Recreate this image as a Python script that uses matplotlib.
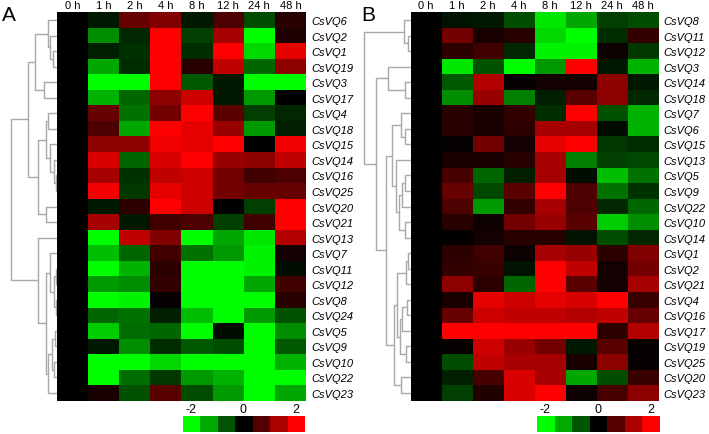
import numpy as np
import matplotlib
matplotlib.use("Agg")
import matplotlib.pyplot as plt
from matplotlib.colors import LinearSegmentedColormap

plt.rcParams['font.family'] = ['Liberation Sans', 'DejaVu Sans']

time_points = ["0 h", "1 h", "2 h", "4 h", "8 h", "12 h", "24 h", "48 h"]

genes_a = ["CsVQ6", "CsVQ2", "CsVQ1", "CsVQ19", "CsVQ3", "CsVQ17", "CsVQ4", "CsVQ18",
           "CsVQ15", "CsVQ14", "CsVQ16", "CsVQ25", "CsVQ20", "CsVQ21", "CsVQ13", "CsVQ7",
           "CsVQ11", "CsVQ12", "CsVQ8", "CsVQ24", "CsVQ5", "CsVQ9", "CsVQ10", "CsVQ22", "CsVQ23"]

values_a = [
    [0, -0.2, 0.8, 1.0, -0.2, 0.6, -0.6, 0.3],
    [0, -1.1, -0.3, 2.0, -0.5, 1.3, -2.0, 0.25],
    [0, -0.25, -0.4, 2.0, -0.35, 2.0, -1.7, 1.8],
    [0, -1.3, -0.35, 2.0, 0.3, 1.5, -0.8, 1.1],
    [0, -2.0, -2.0, 2.0, -0.7, -0.2, -2.0, -2.0],
    [0, -1.4, -0.8, 1.1, 1.6, -0.2, -1.2, 0.0],
    [0, 0.8, -0.9, 0.9, 2.0, 0.7, -0.5, -0.3],
    [0, 0.6, -1.3, 2.0, 1.8, 1.2, -1.2, -0.25],
    [0, 1.1, 1.1, 1.9, 1.8, 2.0, 0.0, 1.9],
    [0, 1.7, -0.8, 1.7, 2.0, 1.2, 1.1, 1.5],
    [0, 1.3, -0.4, 1.5, 1.6, 0.9, 0.5, 0.6],
    [0, 1.9, -0.45, 1.8, 1.6, 0.9, 0.8, 0.8],
    [0, -0.2, 0.35, 2.0, 1.6, 0.0, -0.5, 2.0],
    [0, 1.3, -0.2, 0.5, 0.6, -0.5, 0.5, 2.0],
    [0, -2.0, 1.5, 1.0, -2.0, -1.3, -1.8, 1.4],
    [0, -1.5, -0.8, 0.5, -0.9, -1.2, -1.9, 0.15],
    [0, -2.0, -1.4, 0.35, -2.0, -2.0, -1.9, -0.1],
    [0, -1.2, -1.1, 0.4, -2.0, -2.0, -1.3, 0.5],
    [0, -2.0, -1.9, 0.05, -2.0, -2.0, -2.0, 0.3],
    [0, -0.8, -0.9, -0.25, -1.5, -2.0, -1.2, -0.65],
    [0, -1.6, -0.85, -0.8, -2.0, -0.1, -2.0, -1.1],
    [0, -0.2, -1.1, -0.35, -0.7, -0.6, -2.0, -0.7],
    [0, -2.0, -2.0, -1.7, -2.0, -2.0, -2.0, -1.4],
    [0, -2.0, -0.85, -0.45, -1.2, -1.4, -2.0, -2.0],
    [0, 0.2, -0.65, 0.7, -0.6, -1.2, -2.0, -1.3],
]

# linkage: (child, child, height); leaves = display rows, node n+k = k-th merge
links_a = [
    (2, 3, 3.7), (1, 25, 7.0), (0, 26, 8.7), (4, 5, 12.7), (27, 28, 22.0),
    (6, 7, 8.7), (10, 11, 1.5), (9, 31, 3.0), (8, 32, 7.0), (30, 33, 11.3),
    (12, 13, 11.3), (34, 35, 19.3), (29, 36, 29.3),
    (16, 17, 1.0), (18, 19, 1.0), (38, 39, 2.7), (15, 40, 7.0),
    (20, 21, 2.5), (22, 23, 3.0), (42, 43, 4.7), (44, 24, 8.7), (41, 45, 11.3),
    (14, 46, 18.7), (37, 47, 46.0),
]

genes_b = ["CsVQ8", "CsVQ11", "CsVQ12", "CsVQ3", "CsVQ14", "CsVQ18", "CsVQ7", "CsVQ6",
           "CsVQ15", "CsVQ13", "CsVQ5", "CsVQ9", "CsVQ22", "CsVQ10", "CsVQ14", "CsVQ1",
           "CsVQ2", "CsVQ21", "CsVQ4", "CsVQ16", "CsVQ17", "CsVQ19", "CsVQ25", "CsVQ20", "CsVQ23"]

values_b = [
    [0, -0.15, -0.2, -0.6, -1.8, -1.3, -0.5, -0.6],
    [0, 0.9, 0.2, 0.3, -1.7, -2.0, -0.35, 0.4],
    [0, 0.35, 0.5, -0.3, -1.9, -1.9, 0.1, -0.45],
    [0, -1.8, -0.65, -2.0, -1.2, 2.0, -0.2, -1.4],
    [0, -0.7, 1.4, 0.05, 0.15, 0.15, 1.1, -0.2],
    [0, -1.1, 1.2, -1.0, -0.25, 0.7, 1.1, -0.3],
    [0, 0.3, 0.2, 0.4, -0.35, 2.0, -0.65, -1.4],
    [0, 0.3, 0.2, 0.35, 1.3, 1.3, -0.1, -1.4],
    [0, 0.05, 0.9, 0.15, 1.8, 2.0, -0.45, -0.35],
    [0, 0.2, 0.2, 0.3, 1.3, -1.0, -0.5, -0.55],
    [0, 0.55, -0.8, -0.25, 1.3, -0.1, -1.5, -0.9],
    [0, 0.8, -0.55, 0.7, 2.0, 0.6, -0.9, -0.4],
    [0, 0.6, -1.2, 0.4, 1.3, 0.6, -0.3, -0.8],
    [0, 0.3, 0.1, 0.9, 1.2, 0.7, -1.6, -1.1],
    [0, 0.02, 0.15, 0.3, 0.3, -0.15, -0.6, -0.3],
    [0, 0.35, 0.5, 0.1, 1.3, 1.2, 0.35, 1.0],
    [0, 0.4, 0.45, -0.15, 2.0, 1.5, 0.15, 0.9],
    [0, 1.1, 0.35, -0.8, 2.0, 0.7, 0.15, 1.3],
    [0, 0.2, 1.8, 1.6, 1.8, 1.7, 2.0, 0.45],
    [0, 0.8, 1.6, 1.5, 1.5, 1.4, 1.5, 0.8],
    [0, 2.0, 2.0, 2.0, 2.0, 2.0, 0.35, 1.4],
    [0, 0.05, 1.6, 1.2, 0.9, -0.2, 0.7, 0.05],
    [0, -0.6, 1.5, 1.3, 1.3, 0.2, 1.1, 0.05],
    [0, -0.25, 0.55, 1.7, 1.3, -1.3, -0.6, 0.45],
    [0, -0.5, 0.25, 1.7, 2.0, 0.1, 0.55, 1.1],
]

links_b = [
    (1, 2, 2.4), (0, 25, 6.4), (4, 5, 5.7), (3, 27, 22.4),
    (7, 8, 5.7), (6, 29, 10.0), (10, 11, 5.7), (31, 12, 8.7), (13, 14, 5.7),
    (32, 33, 11.4), (9, 34, 14.7), (30, 35, 19.0),
    (15, 16, 2.4), (37, 17, 5.0), (18, 19, 4.0), (39, 20, 8.4), (21, 22, 4.7),
    (40, 41, 10.7), (38, 42, 14.0), (23, 24, 10.0), (43, 44, 16.7),
    (36, 45, 25.0), (28, 46, 35.0), (26, 47, 46.4),
]

cbar_values = [-2.0, -1.333, -0.667, 0.0, 0.667, 1.333, 2.0]
cbar_ticks = [-2, 0, 2]

cmap = LinearSegmentedColormap.from_list("gkr", [(0, 1, 0), (0, 0, 0), (1, 0, 0)])

W, H = 709, 435
fig = plt.figure(figsize=(W / 100, H / 100), dpi=100)


def px_axes(x0, y0, x1, y1):
    return fig.add_axes([x0 / W, 1 - y1 / H, (x1 - x0) / W, (y1 - y0) / H])


def draw_dendro(ax, links, n):
    pos = {i: float(i) for i in range(n)}
    hgt = {i: 0.0 for i in range(n)}
    for k, (a, b, h) in enumerate(links):
        ya, yb = pos[a], pos[b]
        ax.plot([hgt[a], h, h, hgt[b]], [ya, ya, yb, yb], color="#a8a8a8",
                lw=1.0, solid_capstyle="butt", clip_on=False)
        pos[n + k] = (ya + yb) / 2
        hgt[n + k] = h
    ax.set_ylim(n - 0.5, -0.5)
    ax.axis("off")


def draw_heat(ax, vals, genes):
    arr = np.array(vals)
    ax.imshow(arr, cmap=cmap, vmin=-2, vmax=2, aspect="auto", interpolation="nearest")
    ax.set_xticks(range(len(time_points)))
    ax.set_xticklabels(time_points, fontsize=8)
    ax.xaxis.tick_top()
    ax.set_yticks(range(len(genes)))
    ax.set_yticklabels(genes, fontsize=8, style="italic")
    ax.yaxis.tick_right()
    ax.tick_params(length=0, pad=1.5)
    ax.tick_params(axis="y", pad=4)
    for s in ax.spines.values():
        s.set_visible(False)


def draw_cbar(ax):
    ax.imshow(np.array([cbar_values]), cmap=cmap, vmin=-2, vmax=2, aspect="auto",
              extent=(-2.333, 2.333, 0, 1))
    ax.set_xticks(cbar_ticks)
    ax.set_xticklabels([str(t) for t in cbar_ticks], fontsize=9)
    ax.xaxis.tick_top()
    ax.tick_params(length=0, pad=0.5)
    ax.set_yticks([])
    for s in ax.spines.values():
        s.set_visible(False)


top, bot = 13.3, 401.7

# Panel A
axd = px_axes(0, top, 57, bot)
draw_dendro(axd, links_a, len(genes_a))
axd.set_xlim(57, 0)
axh = px_axes(57, top, 306, bot)
draw_heat(axh, values_a, genes_a)
axc = px_axes(182.7, 417, 304, 432.7)
draw_cbar(axc)
fig.text(1.7 / W, 1 - 20.7 / H, "A", fontsize=15, va="baseline", ha="left")

# Panel B
axd2 = px_axes(355, top, 410.7, bot)
draw_dendro(axd2, links_b, len(genes_b))
axd2.set_xlim(55.7, 0)
axh2 = px_axes(410.7, top, 658.3, bot)
draw_heat(axh2, values_b, genes_b)
axc2 = px_axes(536.7, 417, 659.3, 432.7)
draw_cbar(axc2)
fig.text(361.7 / W, 1 - 20.7 / H, "B", fontsize=15, va="baseline", ha="left")

fig.savefig("out.png", dpi=100)
